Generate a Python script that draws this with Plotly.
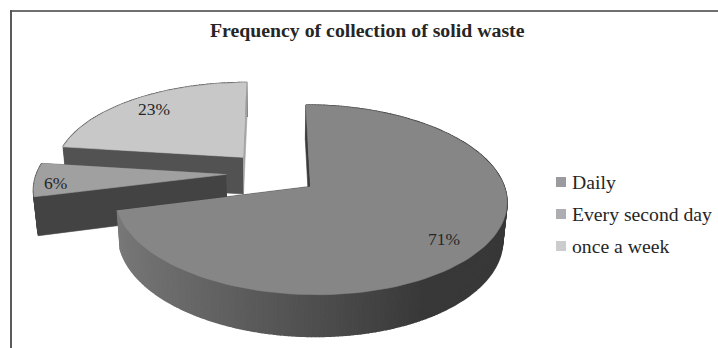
import numpy as np
import plotly.graph_objects as go

# Chart content
title = "Frequency of collection of solid waste"
categories = ["Daily", "Every second day", "once a week"]
shares = [71, 6, 23]

# Colours
top_colours = ["#868686", "#a0a0a0", "#c8c8c8"]
front_wall_colours = ["#3a3a3a", "#434343", "#525252"]
back_wall_colours = ["#3a3a3a", "#6a6a6a", "#a4a4a4"]
legend_colours = ["#9a9a9f", "#adadb2", "#ccccce"]
TEXT = "#262626"
FRAME = "#4a4a4a"
SERIF = "Liberation Serif"

# Exploded-pie projection settings
CX, CY = 273.0, 173.0
SCALE_U, SCALE_V = 193.6, 89.2
DEPTH_PX = 38.0
PERSPECTIVE = 0.139
DEPTH_PERSPECTIVE = 0.018
EXPLODE = 0.24
RADIUS_U = 0.98
LABEL_RADIUS = [0.78, 0.89, 0.80]
LABEL_NUDGE = [(3, 5), (0, 4), (-1, -1)]


def project(u, v, lowered=False):
    """Map plane coordinates (v toward the viewer) to figure coordinates."""
    u, v = np.asarray(u, float), np.asarray(v, float)
    drop = 1.0 if lowered else 0.0
    w = 1 - PERSPECTIVE * v + DEPTH_PERSPECTIVE * drop
    return CX + SCALE_U * u / w, CY + (SCALE_V * v + DEPTH_PX * drop) / w


def polar(angle, radius, origin):
    """Clockwise angle from twelve o'clock, in degrees, to plane coordinates."""
    a = np.radians(angle)
    return origin[0] + radius * RADIUS_U * np.sin(a), origin[1] - radius * np.cos(a)


def polygon(fig, x, y, colour, stroke=0.6):
    fig.add_trace(go.Scatter(
        x=list(x), y=list(y), mode="lines", fill="toself", fillcolor=colour,
        line=dict(color=colour, width=stroke), hoverinfo="skip", showlegend=False,
    ))


def radial_wall(fig, origin, angle, colour):
    ou, ov = polar(angle, 1.0, origin)
    xt, yt = project([origin[0], ou], [origin[1], ov])
    xb, yb = project([origin[0], ou], [origin[1], ov], lowered=True)
    polygon(fig, [xt[0], xt[1], xb[1], xb[0]], [yt[0], yt[1], yb[1], yb[0]], colour)


def rim_grey(angle):
    """Side shading of the rim: lighter on the left, darkest toward the right."""
    grey = 78 - 44 * np.sin(np.radians(angle))
    grey = max(grey, 56)
    return f"rgb({grey:.0f},{grey:.0f},{grey:.0f})"


fig = go.Figure()

# Slice angles follow the shares, clockwise from twelve o'clock
edges = np.cumsum([0] + shares) * 3.6
origins = []
for i in range(len(shares)):
    mid = np.radians((edges[i] + edges[i + 1]) / 2)
    origins.append((EXPLODE * np.sin(mid), -EXPLODE * np.cos(mid)))

# Painter's order: the back slices first, the largest slice last
for i in [2, 1, 0]:
    start, end = edges[i], edges[i + 1]
    origin = origins[i]
    if i == 0:
        radial_wall(fig, origin, end, back_wall_colours[i])

    # Rim, built as thin strips so the shading can vary along the arc
    steps = np.arange(start, end + 1, 1.0)
    steps[-1] = end
    for a0, a1 in zip(steps[:-1], steps[1:]):
        pu, pv = polar(np.array([a0, a1]), 1.0, origin)
        xt, yt = project(pu, pv)
        xb, yb = project(pu, pv, lowered=True)
        shade = rim_grey((a0 + a1) / 2) if i == 0 else front_wall_colours[i]
        polygon(fig, [xt[0], xt[1], xb[1], xb[0]], [yt[0], yt[1], yb[1], yb[0]], shade, 1.6)

    if i != 0:
        radial_wall(fig, origin, end, back_wall_colours[i])
    radial_wall(fig, origin, start, front_wall_colours[i])

    # Top face
    arc = np.linspace(start, end, 120)
    pu, pv = polar(arc, 1.0, origin)
    xt, yt = project(np.r_[origin[0], pu], np.r_[origin[1], pv])
    polygon(fig, xt, yt, top_colours[i])

annotations = []

# Percentage labels placed along each slice's bisector
for i, share in enumerate(shares):
    mid = (edges[i] + edges[i + 1]) / 2
    lu, lv = polar(mid, LABEL_RADIUS[i], origins[i])
    lx, ly = project(lu, lv)
    annotations.append(dict(
        x=float(lx) + LABEL_NUDGE[i][0], y=float(ly) + LABEL_NUDGE[i][1],
        text=f"{share}%", showarrow=False,
        font=dict(family=SERIF, size=17.5, color=TEXT),
    ))

# Legend drawn as square markers with labels beside them
legend_y = [182, 214, 246]
fig.add_trace(go.Scatter(
    x=[561] * 3, y=legend_y, mode="markers",
    marker=dict(symbol="square", size=10, color=legend_colours),
    hoverinfo="skip", showlegend=False,
))
for name, y in zip(categories, legend_y):
    annotations.append(dict(
        x=570, y=y, text=name, showarrow=False, xanchor="left",
        font=dict(family=SERIF, size=19.7, color=TEXT),
    ))

annotations.append(dict(
    x=367, y=30, text=f"<b>{title}</b>", showarrow=False,
    font=dict(family=SERIF, size=19.8, color=TEXT),
))

# Chart frame: top and left edges
shapes = [
    dict(type="line", x0=10, x1=718, y0=11, y1=11, line=dict(color="#404040", width=1.5)),
    dict(type="line", x0=11, x1=11, y0=10.5, y1=348, line=dict(color=FRAME, width=1.8)),
]

fig.update_layout(
    width=718, height=348, margin=dict(l=0, r=0, t=0, b=0),
    paper_bgcolor="white", plot_bgcolor="white", showlegend=False,
    xaxis=dict(range=[0, 718], visible=False, fixedrange=True),
    yaxis=dict(range=[348, 0], visible=False, fixedrange=True),
    annotations=annotations, shapes=shapes,
)
fig.write_html("out.html", config={"displayModeBar": False})
